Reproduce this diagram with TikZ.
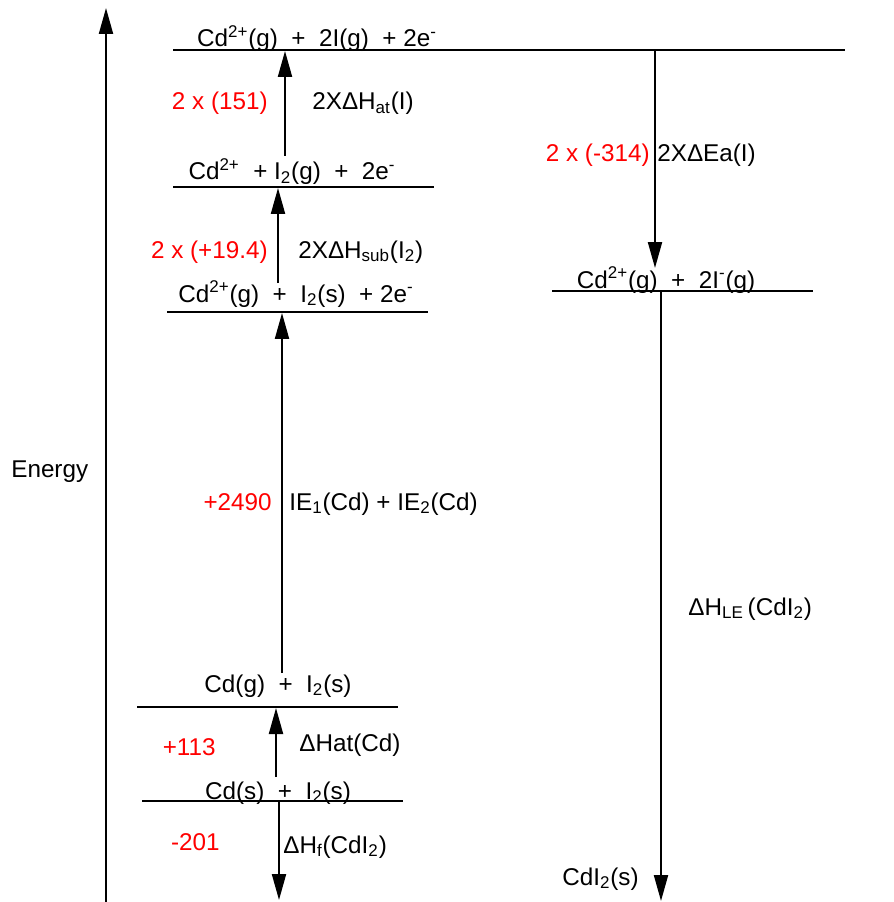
\documentclass[tikz,border=0pt]{standalone}
\usepackage{fontspec}
\setmainfont{Liberation Sans}
\usetikzlibrary{arrows.meta}

\tikzset{
  level/.style={line width=0.9pt},
  jump/.style={line width=1.2pt, -{Triangle[length=0.52cm,width=0.28cm]}},
  val/.style={text=red, anchor=base east},
  lbl/.style={anchor=base west},
  every node/.style={font=\fontsize{13.8}{16}\selectfont, inner sep=0pt},
}

\begin{document}
\begin{tikzpicture}[x=0.02cm, y=-0.02cm]
  \useasboundingbox (0,0) rectangle (893,902);

  % energy axis
  \coordinate (e0) at (106,902);
  \coordinate (e1) at (106,8);
  \draw[jump] (e0) -- (e1);
  \node[lbl] (energy) at (11,477) {Energy};

  % levels
  \coordinate (l1a) at (173,50);  \coordinate (l1b) at (845,50);
  \coordinate (l2a) at (173,187); \coordinate (l2b) at (434,187);
  \coordinate (l3a) at (167,312); \coordinate (l3b) at (428,312);
  \coordinate (l4a) at (137,707); \coordinate (l4b) at (398,707);
  \coordinate (l5a) at (142,801); \coordinate (l5b) at (403,801);
  \coordinate (l6a) at (552,291); \coordinate (l6b) at (813,291);
  \foreach \l in {1,...,6}
    \draw[level] (l\l a) -- (l\l b);

  \node[anchor=base] (s1) at (317,47) {Cd\textsuperscript{2+}(g)~~+~~2I(g)~~+ 2e\textsuperscript{-}};
  \node[anchor=base] (s2) at (292,180) {Cd\textsuperscript{2+}~~+ I\textsubscript{2}(g)~~+~~2e\textsuperscript{-}};
  \node[anchor=base] (s3) at (296,302) {Cd\textsuperscript{2+}(g)~~+~~I\textsubscript{2}(s)~~+ 2e\textsuperscript{-}};
  \node[anchor=base] (s4) at (278,692) {Cd(g)~~+~~I\textsubscript{2}(s)};
  \node[anchor=base] (s5) at (278,799) {Cd(s)~~+~~I\textsubscript{2}(s)};
  \node[anchor=base] (s6) at (666,288) {Cd\textsuperscript{2+}(g)~~+~~2I\textsuperscript{-}(g)};
  \node[lbl] (s7) at (562,885) {CdI\textsubscript{2}(s)};

  % arrow ends
  \coordinate (a1s) at (285,156); \coordinate (a1e) at (285,51);
  \coordinate (a2s) at (278,283); \coordinate (a2e) at (278,188);
  \coordinate (a3s) at (282,673); \coordinate (a3e) at (282,313);
  \coordinate (a4s) at (276,777); \coordinate (a4e) at (276,708);
  \coordinate (a5s) at (279,801); \coordinate (a5e) at (279,900);
  \coordinate (a6s) at (655,50);  \coordinate (a6e) at (655,268);
  \coordinate (a7s) at (661,291); \coordinate (a7e) at (661,901);
  \foreach \a in {1,...,7}
    \draw[jump] (a\a s) -- (a\a e);

  % values and labels
  \node[val] (v1) at (268,110) {2 x (151)};
  \node[lbl] (n1) at (312,110) {2XΔH\textsubscript{at}(I)};
  \node[val] (v2) at (268,258) {2 x (+19.4)};
  \node[lbl] (n2) at (298,258) {2XΔH\textsubscript{sub}(I\textsubscript{2})};
  \node[val] (v3) at (272,510) {+2490};
  \node[lbl] (n3) at (289,510) {IE\textsubscript{1}(Cd) + IE\textsubscript{2}(Cd)};
  \node[val] (v4) at (216,755) {+113};
  \node[lbl] (n4) at (299,751) {ΔHat(Cd)};
  \node[val] (v5) at (220,850) {-201};
  \node[lbl] (n5) at (283,853) {ΔH\textsubscript{f}(CdI\textsubscript{2})};
  \node[val] (v6) at (650,162) {2 x (-314)};
  \node[lbl] (n6) at (657,162) {2XΔEa(I)};
  \node[lbl] (n7) at (688,615) {ΔH\textsubscript{LE}\,(CdI\textsubscript{2})};
\end{tikzpicture}
\end{document}
